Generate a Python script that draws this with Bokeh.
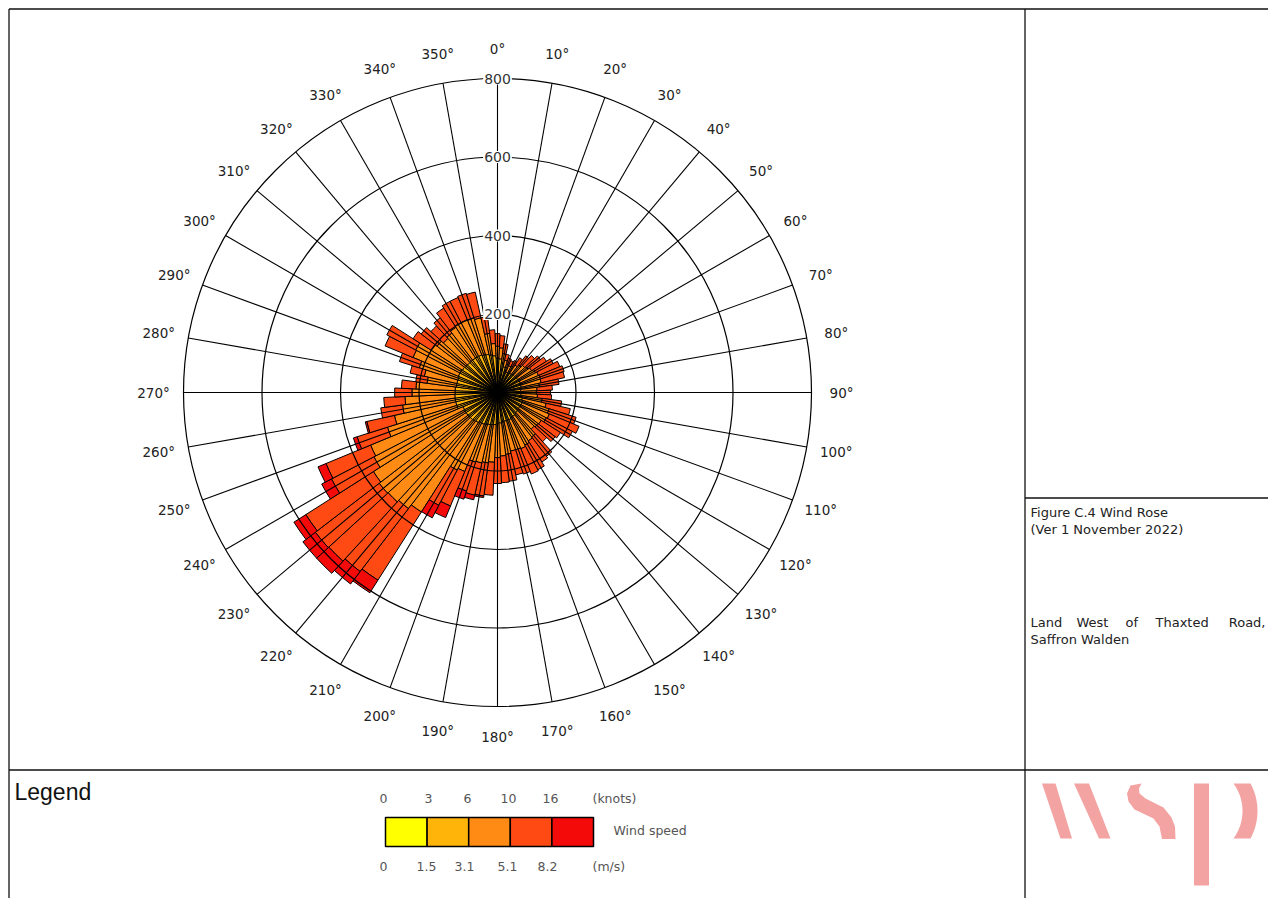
import numpy as np
from bokeh.plotting import figure
from bokeh.models import Range1d, ColumnDataSource
from bokeh.embed import file_html
from bokeh.resources import INLINE
from bokeh.core.properties import value

# ---------------- data (frequency counts per 5-degree sector) ----------------
bearings = list(range(0, 360, 5))

speed_0_1p5 = [14, 14, 13, 12, 12, 12, 12, 13, 13, 14, 14, 14,
               15, 15, 15, 15, 15, 14, 14, 14, 15, 15, 16, 16,
               16, 15, 15, 15, 16, 16, 16, 17, 17, 17, 17, 18,
               18, 18, 18, 18, 18, 18, 18, 19, 19, 19, 19, 19,
               19, 19, 18, 18, 18, 18, 18, 18, 17, 17, 17, 18,
               18, 17, 17, 17, 17, 17, 17, 17, 17, 17, 16, 15]
speed_1p5_3p1 = [74, 72, 64, 55, 45, 44, 44, 45, 46, 46, 46, 47,
                 48, 48, 48, 47, 46, 45, 45, 46, 48, 50, 52, 52,
                 52, 52, 53, 54, 55, 56, 57, 58, 58, 58, 60, 60,
                 62, 64, 65, 66, 68, 70, 70, 72, 74, 75, 76, 76,
                 76, 76, 91, 91, 91, 91, 90, 90, 89, 89, 89, 90,
                 90, 89, 87, 87, 87, 87, 87, 87, 85, 83, 81, 79]
speed_3p1_5p1 = [30, 28, 23, 17, 20, 18, 20, 25, 30, 34, 38, 42,
                 46, 50, 52, 52, 47, 42, 40, 42, 52, 62, 70, 75,
                 72, 65, 62, 58, 72, 74, 78, 80, 78, 78, 82, 84,
                 86, 96, 98, 100, 100, 130, 135, 270, 280, 284, 285, 280,
                 260, 255, 185, 160, 135, 127, 110, 100, 75, 85, 103, 125,
                 127, 95, 90, 83, 87, 93, 97, 97, 97, 95, 55, 31]
speed_5p1_8p2 = [32, 31, 25, 16, 15, 14, 16, 22, 29, 34, 40, 45,
                 51, 59, 63, 61, 50, 39, 36, 36, 50, 63, 72, 82,
                 75, 58, 55, 43, 62, 64, 71, 70, 65, 62, 69, 68,
                 66, 84, 85, 84, 77, 95, 101, 206, 202, 205, 205, 204,
                 122, 123, 81, 72, 56, 54, 44, 37, 29, 37, 53, 77,
                 83, 54, 51, 43, 49, 58, 61, 61, 66, 67, 43, 35]
speed_over_8p2 = [0, 0, 0, 0, 0, 0, 0, 0, 0, 0, 0, 0,
                  0, 0, 0, 0, 0, 0, 0, 0, 0, 0, 0, 0,
                  0, 0, 0, 0, 0, 0, 0, 0, 0, 0, 0, 0,
                  0, 0, 4, 12, 22, 32, 36, 38, 40, 42, 40, 36,
                  28, 22, 10, 4, 0, 0, 0, 0, 0, 0, 0, 0,
                  0, 0, 0, 0, 0, 0, 0, 0, 0, 0, 0, 0]

class_colors = ["#FFFF00", "#FFB40A", "#FF8A14", "#FF4A14", "#F50A0A"]
ring_values = [200, 400, 600, 800]
direction_ticks = list(range(0, 360, 10))
knots_labels = ["0", "3", "6", "10", "16"]
ms_labels = ["0", "1.5", "3.1", "5.1", "8.2"]

# ---------------- figure / coordinate setup ----------------
K = 314.0 / 800.0          # pixels per count unit
CX, CY = 497.0, 392.0      # page position of the rose centre
X0, Y0 = 0, 0
W, H = 1268, 898

p = figure(width=W, height=H, output_backend="svg", toolbar_location=None,
           x_range=Range1d((X0 - CX) / K, (X0 + W - CX) / K),
           y_range=Range1d((CY - (Y0 + H)) / K, (CY - Y0) / K),
           x_axis_location=None, y_axis_location=None,
           min_border=0, outline_line_color=None)
p.grid.visible = False
p.background_fill_color = "white"
p.border_fill_color = "white"
p.extra_x_ranges = {"px": Range1d(X0, X0 + W)}
p.extra_y_ranges = {"px": Range1d(Y0 + H, Y0)}
PX = dict(x_range_name="px", y_range_name="px")

# ---------------- wind rose bars ----------------
b = np.array(bearings, dtype=float)
half = 2.5
start = np.deg2rad(90 - (b + half))
end = np.deg2rad(90 - (b - half))
classes = np.array([speed_0_1p5, speed_1p5_3p1, speed_3p1_5p1,
                    speed_5p1_8p2, speed_over_8p2], dtype=float)
cum = np.cumsum(classes, axis=0)
inner = np.vstack([np.zeros(len(bearings)), cum[:-1]])
for k in range(5):
    m = classes[k] > 0
    src = ColumnDataSource(dict(inner=inner[k][m], outer=cum[k][m],
                                start=start[m], end=end[m]))
    p.annular_wedge(x=0, y=0, inner_radius="inner", outer_radius="outer",
                    start_angle="start", end_angle="end", direction="anticlock",
                    source=src, fill_color=class_colors[k],
                    line_color="black", line_width=1.0)

# ---------------- polar grid ----------------
t = np.deg2rad(np.array(direction_ticks, dtype=float))
rmax = ring_values[-1]
p.segment(x0=0, y0=0, x1=rmax * np.sin(t), y1=rmax * np.cos(t),
          line_color="black", line_width=1.1)
p.circle(x=[0] * len(ring_values), y=[0] * len(ring_values), radius=ring_values,
         fill_color=None, line_color="black", line_width=1.2)

p.text(x=[0] * len(ring_values), y=ring_values, text=[str(v) for v in ring_values],
       text_align="center", text_baseline="middle",
       text_font=value("DejaVu Sans"), text_font_size="14px", text_color="#333333",
       background_fill_color="white", padding=1)

RL = 344.0 / K
p.text(x=RL * np.sin(t), y=RL * np.cos(t), text=[f"{d}°" for d in direction_ticks],
       text_align="center", text_baseline="middle",
       text_font=value("DejaVu Sans"), text_font_size="13.5px", text_color="#222222")

# ---------------- page frame ----------------
p.segment(x0=[8.5, 8.5, 1024.5, 8.5, 1024.5], y0=[8.5, 8.5, 8.5, 769.5, 497.5],
          x1=[1268, 8.5, 1024.5, 1268, 1268], y1=[8.5, 898, 898, 769.5, 497.5],
          line_color="#111111", line_width=1.3, **PX)

# ---------------- legend panel ----------------
p.text(x=[14], y=[791], text=["Legend"], text_align="left", text_baseline="middle",
       text_font=value("Liberation Sans"), text_font_size="23px",
       text_color="#111111", **PX)
edges = np.linspace(385, 593, 6)
p.quad(left=edges[:-1], right=edges[1:], top=817, bottom=846,
       fill_color=class_colors, line_color="black", line_width=1.5, **PX)
p.text(x=[383, 428, 467, 508, 550], y=[798] * 5, text=knots_labels,
       text_align="center", text_baseline="middle",
       text_font=value("DejaVu Sans"), text_font_size="12.5px",
       text_color="#555555", **PX)
p.text(x=[383, 426, 464, 507, 547], y=[866] * 5, text=ms_labels,
       text_align="center", text_baseline="middle",
       text_font=value("DejaVu Sans"), text_font_size="12.5px",
       text_color="#555555", **PX)
p.text(x=[592, 592, 613], y=[798, 866, 830], text=["(knots)", "(m/s)", "Wind speed"],
       text_align="left", text_baseline="middle",
       text_font=value("DejaVu Sans"), text_font_size="12.5px",
       text_color="#555555", **PX)

# ---------------- title block ----------------
p.text(x=[1030, 1030, 1030], y=[512, 529, 639],
       text=["Figure C.4 Wind Rose", "(Ver 1 November 2022)", "Saffron Walden"],
       text_align="left", text_baseline="middle",
       text_font=value("DejaVu Sans"), text_font_size="13px",
       text_color="#222222", **PX)
p.text(x=[1030, 1076, 1125, 1155], y=[622] * 4,
       text=["Land", "West", "of", "Thaxted"],
       text_align="left", text_baseline="middle",
       text_font=value("DejaVu Sans"), text_font_size="13px",
       text_color="#222222", **PX)
p.text(x=[1265], y=[622], text=["Road,"], text_align="right", text_baseline="middle",
       text_font=value("DejaVu Sans"), text_font_size="13px",
       text_color="#222222", **PX)

# ---------------- wsp logo ----------------
logo = "#F4A3A3"
p.patches(xs=[[1041.5, 1055, 1071.5, 1060], [1073.5, 1088.5, 1110, 1098.5]],
          ys=[[783, 783, 838, 838], [783, 783, 838, 838]],
          fill_color=logo, line_color=None, **PX)
s_x = [1130, 1126.5, 1128, 1134, 1153, 1159, 1161.5, 1175, 1174.5, 1171, 1163, 1145, 1139, 1138.5, 1141]
s_y = [785, 793, 801, 809, 818, 826, 838.5, 838.5, 826, 817, 807, 798, 793, 788, 783]
p.patch(x=s_x, y=s_y, fill_color=logo, line_color=None, **PX)
p.quad(left=[1193.5], right=[1208.5], top=[783], bottom=[885],
       fill_color=logo, line_color=None, **PX)
ao = np.linspace(-np.arcsin(27.5 / 57.5), np.arcsin(27.5 / 57.5), 30)
ai = np.linspace(np.arcsin(27.5 / 46.5), -np.arcsin(27.5 / 46.5), 30)
bx = list(1199.5 + 57.5 * np.cos(ao)) + list(1195.5 + 46.5 * np.cos(ai))
by = list(810.5 + 57.5 * np.sin(ao)) + list(810.5 + 46.5 * np.sin(ai))
p.patch(x=bx, y=by, fill_color=logo, line_color=None, **PX)

open("out.html", "w").write(file_html(p, INLINE))
